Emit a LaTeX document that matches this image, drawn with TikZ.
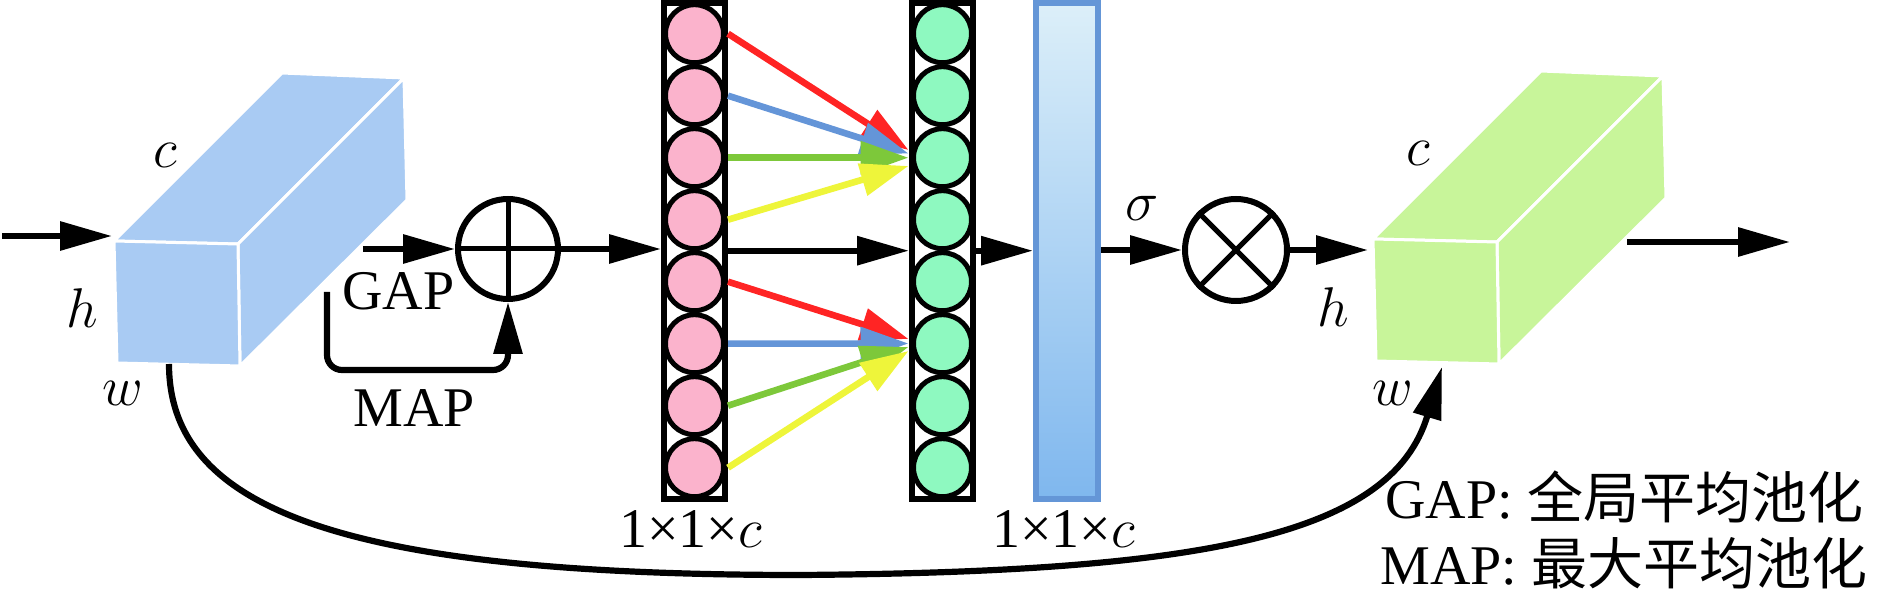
\documentclass[tikz,border=0pt]{standalone}
\usepackage{fix-cm}
\usepackage{fontspec}
\setmainfont{Liberation Serif}
\newfontfamily\cjkfont{Noto Sans CJK SC}
\usetikzlibrary{arrows.meta,calc}
\definecolor{cubeblue}{HTML}{A9CBF3}
\definecolor{cubegreen}{HTML}{C8F59A}
\definecolor{pinkball}{HTML}{FBB3CC}
\definecolor{mintball}{HTML}{8EF9C0}
\definecolor{barline}{HTML}{6496D7}
\definecolor{bartop}{HTML}{DCEFF9}
\definecolor{barbot}{HTML}{7FB7EE}
\definecolor{ared}{HTML}{FF2424}
\definecolor{ablue}{HTML}{6495D8}
\definecolor{agreen}{HTML}{7DC83A}
\definecolor{ayellow}{HTML}{EEF53A}
\tikzset{
  pics/cuboid/.style={code={
    \path[fill=#1,draw=white,line width=1.5pt,line join=round] (0,0) -- (168,-168) -- (290,-163) -- (124,3) -- cycle;
    \path[fill=#1,draw=white,line width=1.5pt,line join=round] (124,3) -- (290,-163) -- (293,-41) -- (126,125) -- cycle;
    \path[fill=#1,draw=white,line width=1.5pt,line join=round] (0,0) -- (124,3) -- (126,125) -- (3,122) -- cycle;
  }},
  arr/.style={line width=3.1pt,-{Triangle[length=26pt,width=14pt]}},
  carr/.style={line width=3.3pt,draw=#1,-{Triangle[length=24pt,width=16pt,fill=#1]}},
  colbox/.style={draw=black,fill=white,line width=3pt,minimum width=30.5pt,minimum height=248pt,inner sep=0pt},
  ball/.style={circle,draw=black,fill=#1,line width=2.5pt,minimum size=29pt,inner sep=0pt},
  opcirc/.style={circle,draw=black,line width=3pt,minimum size=#1,inner sep=0pt},
  lbl/.style={inner sep=0pt}
}
\begin{document}
\begin{tikzpicture}[x=0.5pt,y=-0.5pt,font=\fontsize{28}{32}\selectfont]
\useasboundingbox (0,0) rectangle (1890,603);

% cuboids
\pic at (114,241) {cuboid=cubeblue};
\pic at (1373,239) {cuboid=cubegreen};

% columns
\node[colbox] (pcol) at (694.5,251) {};
\node[colbox] (gcol) at (942.5,251) {};
\node[draw=barline,line width=3pt,top color=bartop,bottom color=barbot,minimum width=31pt,minimum height=248pt,inner sep=0pt] (bar) at (1067,251) {};
\foreach \k in {1,...,8}{
  \node[ball=pinkball] (p\k) at (694.5,{33.7+62*(\k-1)}) {};
  \node[ball=mintball] (g\k) at (942.5,{33.7+62*(\k-1)}) {};
}

% operators
\node[opcirc=50pt] (plus) at (508,249) {};
\draw[line width=2.5pt] (plus.north) -- (plus.south) (plus.west) -- (plus.east);
\node[opcirc=51pt] (ox) at (1236,250) {};
\draw[line width=2.5pt] (ox.north east) -- (ox.south west) (ox.north west) -- (ox.south east);

% coordinates
\coordinate (inS) at (2,236);
\coordinate (inE) at (112,236);
\coordinate (gapS) at (363,249);
\coordinate (mapS) at (327,292);
\coordinate (mapB) at (0,370);
\coordinate (midY) at (0,250.7);
\coordinate (gIn) at (1368,250);
\coordinate (outS) at (1627,242);
\coordinate (outE) at (1790,242);
\coordinate (curS) at (169,364);
\coordinate (curM) at (800,575);
\coordinate (curE) at (1442,367);
\coordinate (t1) at (908.5,150);
\coordinate (t2) at (908.5,153.5);
\coordinate (t3) at (908.5,157.7);
\coordinate (t4) at (908.5,166);
\coordinate (t5) at (908.5,339);
\coordinate (t6) at (908.5,343.5);
\coordinate (t7) at (908.5,347);
\coordinate (t8) at (908.5,351);

% coloured arrows
\draw[carr=ared] (pcol.east |- p1) -- (t1);
\draw[carr=ablue] (pcol.east |- p2) -- (t2);
\draw[carr=agreen] (pcol.east |- p3) -- (t3);
\draw[carr=ayellow] (pcol.east |- p4) -- (t4);
\draw[carr=ared] (pcol.east |- p5) -- (t5);
\draw[carr=ablue] (pcol.east |- p6) -- (t6);
\draw[carr=agreen] (pcol.east |- p7) -- (t7);
\draw[carr=ayellow] (pcol.east |- p8) -- (t8);

% black arrows
\draw[arr] (inS) -- (inE);
\draw[arr] (gapS) -- (plus.west);
\draw[arr,rounded corners=7.5pt] (mapS) -- (mapS |- mapB) -- (plus.south |- mapB) -- (plus.south);
\draw[arr] (plus.east) -- (pcol.west |- plus.east);
\draw[arr] (pcol.east |- midY) -- (gcol.west |- midY);
\draw[arr] (gcol.east |- midY) -- (bar.west |- midY);
\draw[arr] (bar.east |- ox.west) -- (ox.west);
\draw[arr] (ox.east) -- (gIn);
\draw[arr] (outS) -- (outE);
\draw[arr] (curS) .. controls (169,512) and (350,575) .. (curM) .. controls (1200,572) and (1391,537) .. (curE);

% labels
\node[lbl] (bc) at (165,155) {$c$};
\node[lbl] (bh) at (82,308) {$h$};
\node[lbl] (bw) at (123,393) {$w$};
\node[lbl] (gc) at (1418,153) {$c$};
\node[lbl] (gh) at (1333,307) {$h$};
\node[lbl] (gw) at (1393,393) {$w$};
\node[lbl] (sig) at (1142,208) {$\sigma$};
\node[lbl,anchor=base] (gapL) at (398.5,310) {GAP};
\node[lbl,anchor=base] (mapL) at (414,427) {MAP};
\node[lbl,anchor=base] (dimL) at (690.7,548) {1×1×$c$};
\node[lbl,anchor=base] (dimR) at (1063.5,548) {1×1×$c$};
\node[lbl,anchor=base west] (leg1) at (1385,519) {GAP: {\cjkfont 全局平均池化}};
\node[lbl,anchor=base west] (leg2) at (1380,585) {MAP: {\cjkfont 最大平均池化}};
\end{tikzpicture}
\end{document}
